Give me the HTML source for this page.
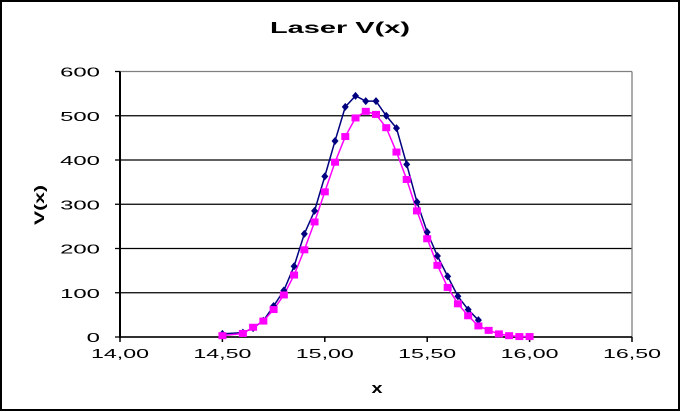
<!DOCTYPE html>
<html><head><meta charset="utf-8"><style>
html,body{margin:0;padding:0;background:#fff}
svg{display:block}
text{font-family:"Liberation Sans",Arial,sans-serif}
</style></head><body>
<svg width="681" height="412">
<rect x="1" y="1" width="678" height="409" fill="#fff" stroke="#000" stroke-width="2"/>
<text x="340" y="33" text-anchor="middle" font-size="16" font-weight="bold" textLength="140" lengthAdjust="spacingAndGlyphs">Laser V(x)</text>
<g id="grid"></g>
<g id="axes"></g>
<g id="series"></g>
<text x="377" y="393" text-anchor="middle" font-size="15" font-weight="bold" textLength="11" lengthAdjust="spacingAndGlyphs">x</text>
<text transform="translate(44,205) rotate(-90)" text-anchor="middle" font-size="14" font-weight="bold" textLength="40" lengthAdjust="spacingAndGlyphs">V(x)</text>
</svg>
<script>
const yTicks=[0,100,200,300,400,500,600];
const xTicks=[14.0,14.5,15.0,15.5,16.0,16.5];
const xTickLabels=["14,00","14,50","15,00","15,50","16,00","16,50"];
const blueX=[14.50,14.60,14.65,14.70,14.75,14.80,14.85,14.90,14.95,15.00,15.05,15.10,15.15,15.20,15.25,15.30,15.35,15.40,15.45,15.50,15.55,15.60,15.65,15.70,15.75];
const blueY=[7,10,20,37,70,105,160,233,285,363,443,520,545,533,533,500,472,390,305,237,183,137,92,62,38];
const pinkX=[14.50,14.60,14.65,14.70,14.75,14.80,14.85,14.90,14.95,15.00,15.05,15.10,15.15,15.20,15.25,15.30,15.35,15.40,15.45,15.50,15.55,15.60,15.65,15.70,15.75,15.80,15.85,15.90,15.95,16.00];
const pinkY=[3,8,22,36,62,95,140,197,260,328,395,453,495,510,503,473,418,356,285,222,162,112,75,48,25,15,7,3,1,1];
const NS="http://www.w3.org/2000/svg";
const L=120,R=632,T=71.5,B=337;
const sx=v=>L+(v-14)/(16.5-14)*(R-L);
const sy=v=>B-v/600*(B-T);
function mk(tag,attrs,parent){const e=document.createElementNS(NS,tag);for(const k in attrs)e.setAttribute(k,attrs[k]);parent.appendChild(e);return e;}
const grid=document.getElementById('grid'),axes=document.getElementById('axes'),ser=document.getElementById('series');
yTicks.forEach(t=>{
  const y=sy(t);
  const g=mk('line',{x1:L,x2:R,y1:y,y2:y,stroke:t===600?'#808080':'#000','stroke-width':1.3},grid);
  
  
  mk('line',{x1:L-5,x2:L,y1:y,y2:y,stroke:'#000','stroke-width':1.3},axes);
  const s=String(t);
  const tx=mk('text',{x:100,y:y+5,'text-anchor':'end','font-size':13,textLength:s.length*13.3,lengthAdjust:'spacingAndGlyphs'},axes);
  tx.textContent=s;
  
  
});
mk('line',{x1:R,x2:R,y1:T,y2:B,stroke:'#808080','stroke-width':1.3},axes);
const ya=mk('line',{x1:L,x2:L,y1:T,y2:B+1,stroke:'#000','stroke-width':2},axes);


const xa=mk('line',{x1:L,x2:R,y1:B,y2:B,stroke:'#000','stroke-width':1.5},axes);


xTicks.forEach((t,i)=>{
  const x=sx(t);
  mk('line',{x1:x,x2:x,y1:B,y2:B+5,stroke:'#000','stroke-width':1.5},axes);
  const tx=mk('text',{x:x,y:B+21,'text-anchor':'middle','font-size':13,textLength:58,lengthAdjust:'spacingAndGlyphs'},axes);
  tx.textContent=xTickLabels[i];
  
  
});
function line(xs,ys,color,name){
  const p=mk('polyline',{points:xs.map((x,i)=>sx(x)+','+sy(ys[i])).join(' '),fill:'none',stroke:color,'stroke-width':1.5},ser);
  
  
}
line(blueX,blueY,'#000080','series-blue-line');
line(pinkX,pinkY,'#ff00ff','series-pink-line');
blueX.forEach((x,i)=>{
  const cx=sx(x),cy=sy(blueY[i]);
  const d=mk('polygon',{points:`${cx},${cy-4} ${cx+3.5},${cy} ${cx},${cy+4} ${cx-3.5},${cy}`,fill:'#000080'},ser);
  
  
});
pinkX.forEach((x,i)=>{
  const cx=sx(x),cy=sy(pinkY[i]);
  const s=mk('rect',{x:cx-4,y:cy-3.5,width:8,height:7,fill:'#ff00ff'},ser);
  
  
});
</script>
</body></html>
